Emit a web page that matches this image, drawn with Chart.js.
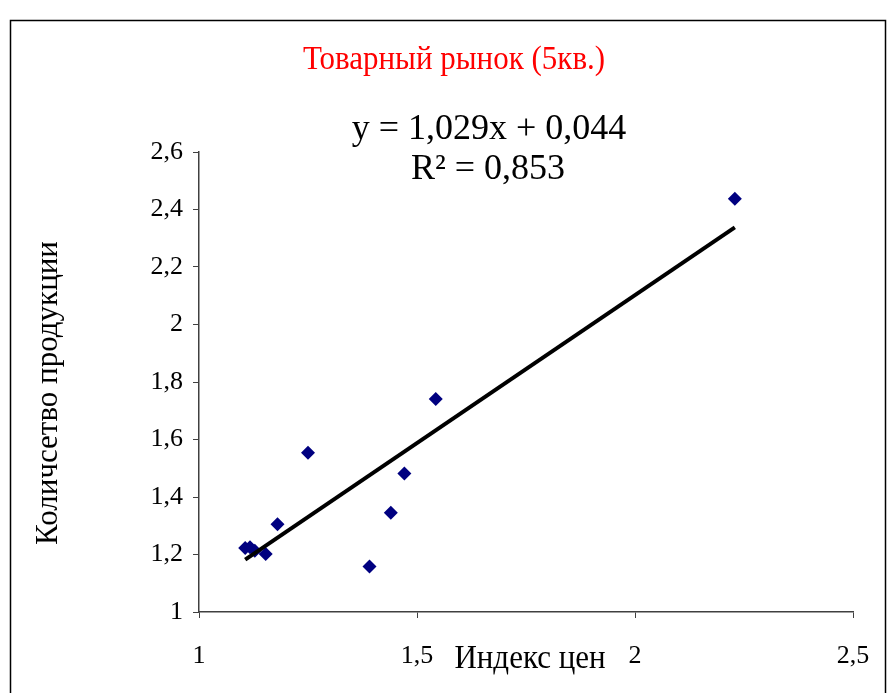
<!DOCTYPE html>
<html><head><meta charset="utf-8">
<script src="https://cdn.jsdelivr.net/npm/chart.js@4"></script>
<style>html,body{margin:0;padding:0;background:#fff;}#wrap{width:889px;height:693px;}</style>
</head><body><div id="wrap"><canvas id="c" width="889" height="693"></canvas></div>
<script>
const priceIndex = [1.106, 1.117, 1.128, 1.153, 1.18, 1.25, 1.391, 1.44, 1.471, 1.543, 2.229];
const quantity   = [1.223, 1.225, 1.213, 1.202, 1.305, 1.554, 1.158, 1.345, 1.482, 1.741, 2.437];
const trendSlope = 1.029;
const trendIntercept = 0.044;
const chartTitle = 'Товарный рынок (5кв.)';
const eqLine1 = 'y = 1,029x + 0,044';
const eqLine2 = 'R² = 0,853';
const xTitle = 'Индекс цен';
const yTitle = 'Количсетво продукции';

const pts = priceIndex.map((x,i)=>({x, y: quantity[i]}));
const xMin = Math.min(...priceIndex), xMax = Math.max(...priceIndex);
const trend = [{x:xMin, y:trendSlope*xMin+trendIntercept},{x:xMax, y:trendSlope*xMax+trendIntercept}];
const fmt = v => String(Math.round(v*10)/10).replace('.', ',');

function stretchText(ctx, text, x, y, sy){
  ctx.save(); ctx.translate(x, y); ctx.scale(1, sy); ctx.fillText(text, 0, 0); ctx.restore();
}

const deco = {
  id:'deco',
  beforeDraw(chart){
    const ctx = chart.ctx;
    ctx.save(); ctx.fillStyle='#fff'; ctx.fillRect(0,0,chart.width,chart.height);
    ctx.strokeStyle='#000'; ctx.lineWidth=1.5; ctx.strokeRect(10.5,20.5,875,700); ctx.restore();
  },
  afterDraw(chart){
    const ctx = chart.ctx;
    ctx.save();
    ctx.textAlign='center'; ctx.textBaseline='middle';
    ctx.fillStyle='#ff0000'; ctx.font='31px "Liberation Serif"';
    stretchText(ctx, chartTitle, 454, 60, 1.1);
    ctx.fillStyle='#000'; ctx.font='36px "Liberation Serif"';
    stretchText(ctx, eqLine1, 489, 130, 1.0);
    stretchText(ctx, eqLine2, 488, 170, 1.0);
    ctx.font='31px "Liberation Serif"';
    stretchText(ctx, xTitle, 530, 659, 1.1);
    ctx.translate(49, 393); ctx.rotate(-Math.PI/2);
    ctx.font='31px "Liberation Serif"';
    ctx.fillText(yTitle, 0, 0);
    ctx.restore();
  }
};

new Chart(document.getElementById('c'), {
  type:'scatter',
  data:{datasets:[
    {data:pts, pointStyle:'rectRot', pointRadius:7, pointHoverRadius:7, backgroundColor:'#000080', borderColor:'#000080', borderWidth:0, order:2},
    {type:'line', data:trend, showLine:true, borderColor:'#000', borderWidth:4, pointRadius:0, fill:false, order:1}
  ]},
  options:{
    responsive:false, animation:false,
    layout:{padding:{left:0, top:152, right:36, bottom:0}},
    plugins:{legend:{display:false}, tooltip:{enabled:false}},
    scales:{
      x:{type:'linear', min:1, max:2.5,
        ticks:{stepSize:0.5, callback:v=>fmt(v), color:'#000', font:{family:'Liberation Serif', size:26}, padding:23, maxRotation:0},
        grid:{drawOnChartArea:false, tickLength:6, color:'#404040'},
        border:{color:'#404040', width:1.5},
        afterFit(s){ s.height = 81; s.paddingLeft = 0; s.paddingRight = 0; }
      },
      y:{type:'linear', min:1, max:2.6,
        ticks:{stepSize:0.2, callback:v=>fmt(v), color:'#000', font:{family:'Liberation Serif', size:26}, padding:10},
        grid:{drawOnChartArea:false, tickLength:6, color:'#404040'},
        border:{color:'#404040', width:1.5},
        afterFit(s){ s.width = 199; s.paddingTop = 0; s.paddingBottom = 0; }
      }
    }
  },
  plugins:[deco]
});
</script></body></html>
